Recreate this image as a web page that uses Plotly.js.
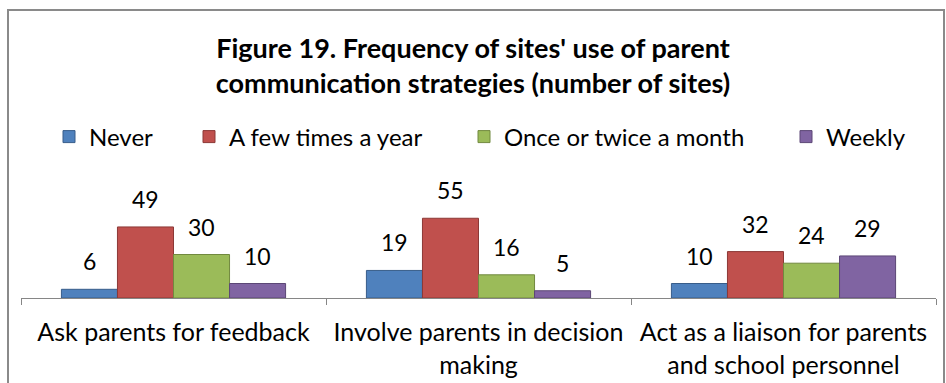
<!DOCTYPE html>
<html>
<head>
<meta charset="utf-8">
<script src="https://cdn.plot.ly/plotly-3.0.1.min.js"></script>
<style>
  html, body { margin: 0; padding: 0; background: #ffffff; overflow: hidden; }
  #chart { position: absolute; left: 0; top: 0; width: 946px; height: 383px; }
  #frame { position: absolute; left: 7px; top: 9px; width: 938px; height: 420px;
           box-sizing: border-box; border: 2px solid #8a8a8a; pointer-events: none; }
</style>
</head>
<body>
<div id="chart"></div>
<div id="frame"></div>
<script>
// ---- data ----
const categories = [
  'Ask parents for feedback',
  'Involve parents in decision<br>making',
  'Act as a liaison for parents<br>and school personnel'
];
const seriesNames = ['Never', 'A few times a year', 'Once or twice a month', 'Weekly'];
const never      = [6, 19, 10];
const fewTimes   = [49, 55, 32];
const onceTwice  = [30, 16, 24];
const weekly     = [10, 5, 29];
const titleText = "Figure 19. Frequency of sites' use of parent<br>communication strategies (number of sites)";

// ---- styling ----
const FONT = 'Lato, "Open Sans", sans-serif';
const fills = ['#4F81BD', '#C0504D', '#9BBB59', '#8064A2'];
const lines = ['#385D8A', '#8C3836', '#71893F', '#5C4776'];
const seriesValues = [never, fewTimes, onceTwice, weekly];
const legendIds = ['legend', 'legend2', 'legend3', 'legend4'];
const legendX = [49, 189, 464, 786];
const bargap = 0.265;

const traces = seriesValues.map((vals, k) => ({
  type: 'bar',
  name: seriesNames[k],
  x: categories,
  y: vals,
  legend: legendIds[k],
  marker: { color: fills[k], line: { color: lines[k], width: 1 } },
  hoverinfo: 'skip'
}));

// value labels placed above each bar through the axes
const nSeries = seriesValues.length;
const barW = (1 - bargap) / nSeries;
const annotations = [];
seriesValues.forEach((vals, k) => {
  vals.forEach((v, i) => {
    annotations.push({
      xref: 'x', yref: 'y',
      x: i + (k - (nSeries - 1) / 2) * barW,
      y: v,
      text: String(v),
      showarrow: false,
      yanchor: 'middle',
      yshift: 28,
      font: { family: FONT, size: 23, color: '#000000' }
    });
  });
});

const layout = {
  width: 946, height: 383,
  margin: { l: 21, r: 10, t: 211, b: 85 },
  paper_bgcolor: '#ffffff', plot_bgcolor: '#ffffff',
  font: { family: FONT, color: '#000000' },
  title: {
    text: titleText,
    x: 0.5, xref: 'container', xanchor: 'center',
    y: 1 - 58 / 383, yref: 'container', yanchor: 'middle',
    font: { family: FONT, size: 27, weight: 'bold', color: '#000000' }
  },
  barmode: 'group',
  bargap: bargap,
  bargroupgap: 0,
  xaxis: {
    type: 'category',
    tickson: 'boundaries',
    ticks: 'outside', ticklen: 6, tickcolor: '#868686', tickwidth: 1,
    showline: true, linecolor: '#868686', linewidth: 1,
    showgrid: false, zeroline: false,
    ticklabelstandoff: 12,
    tickfont: { family: FONT, size: 25, color: '#000000' },
    fixedrange: true
  },
  yaxis: {
    range: [0, 60],
    visible: false, showgrid: false, zeroline: false,
    fixedrange: true
  },
  annotations: annotations,
  showlegend: true
};
legendIds.forEach((id, k) => {
  layout[id] = {
    orientation: 'h',
    x: legendX[k] / 946, xref: 'container', xanchor: 'left',
    y: 1 - 137 / 383, yref: 'container', yanchor: 'middle',
    bgcolor: 'rgba(0,0,0,0)', borderwidth: 0,
    font: { family: FONT, size: 24, color: '#000000' }
  };
});

Plotly.newPlot('chart', traces, layout, { displayModeBar: false, staticPlot: true });
</script>
</body>
</html>
